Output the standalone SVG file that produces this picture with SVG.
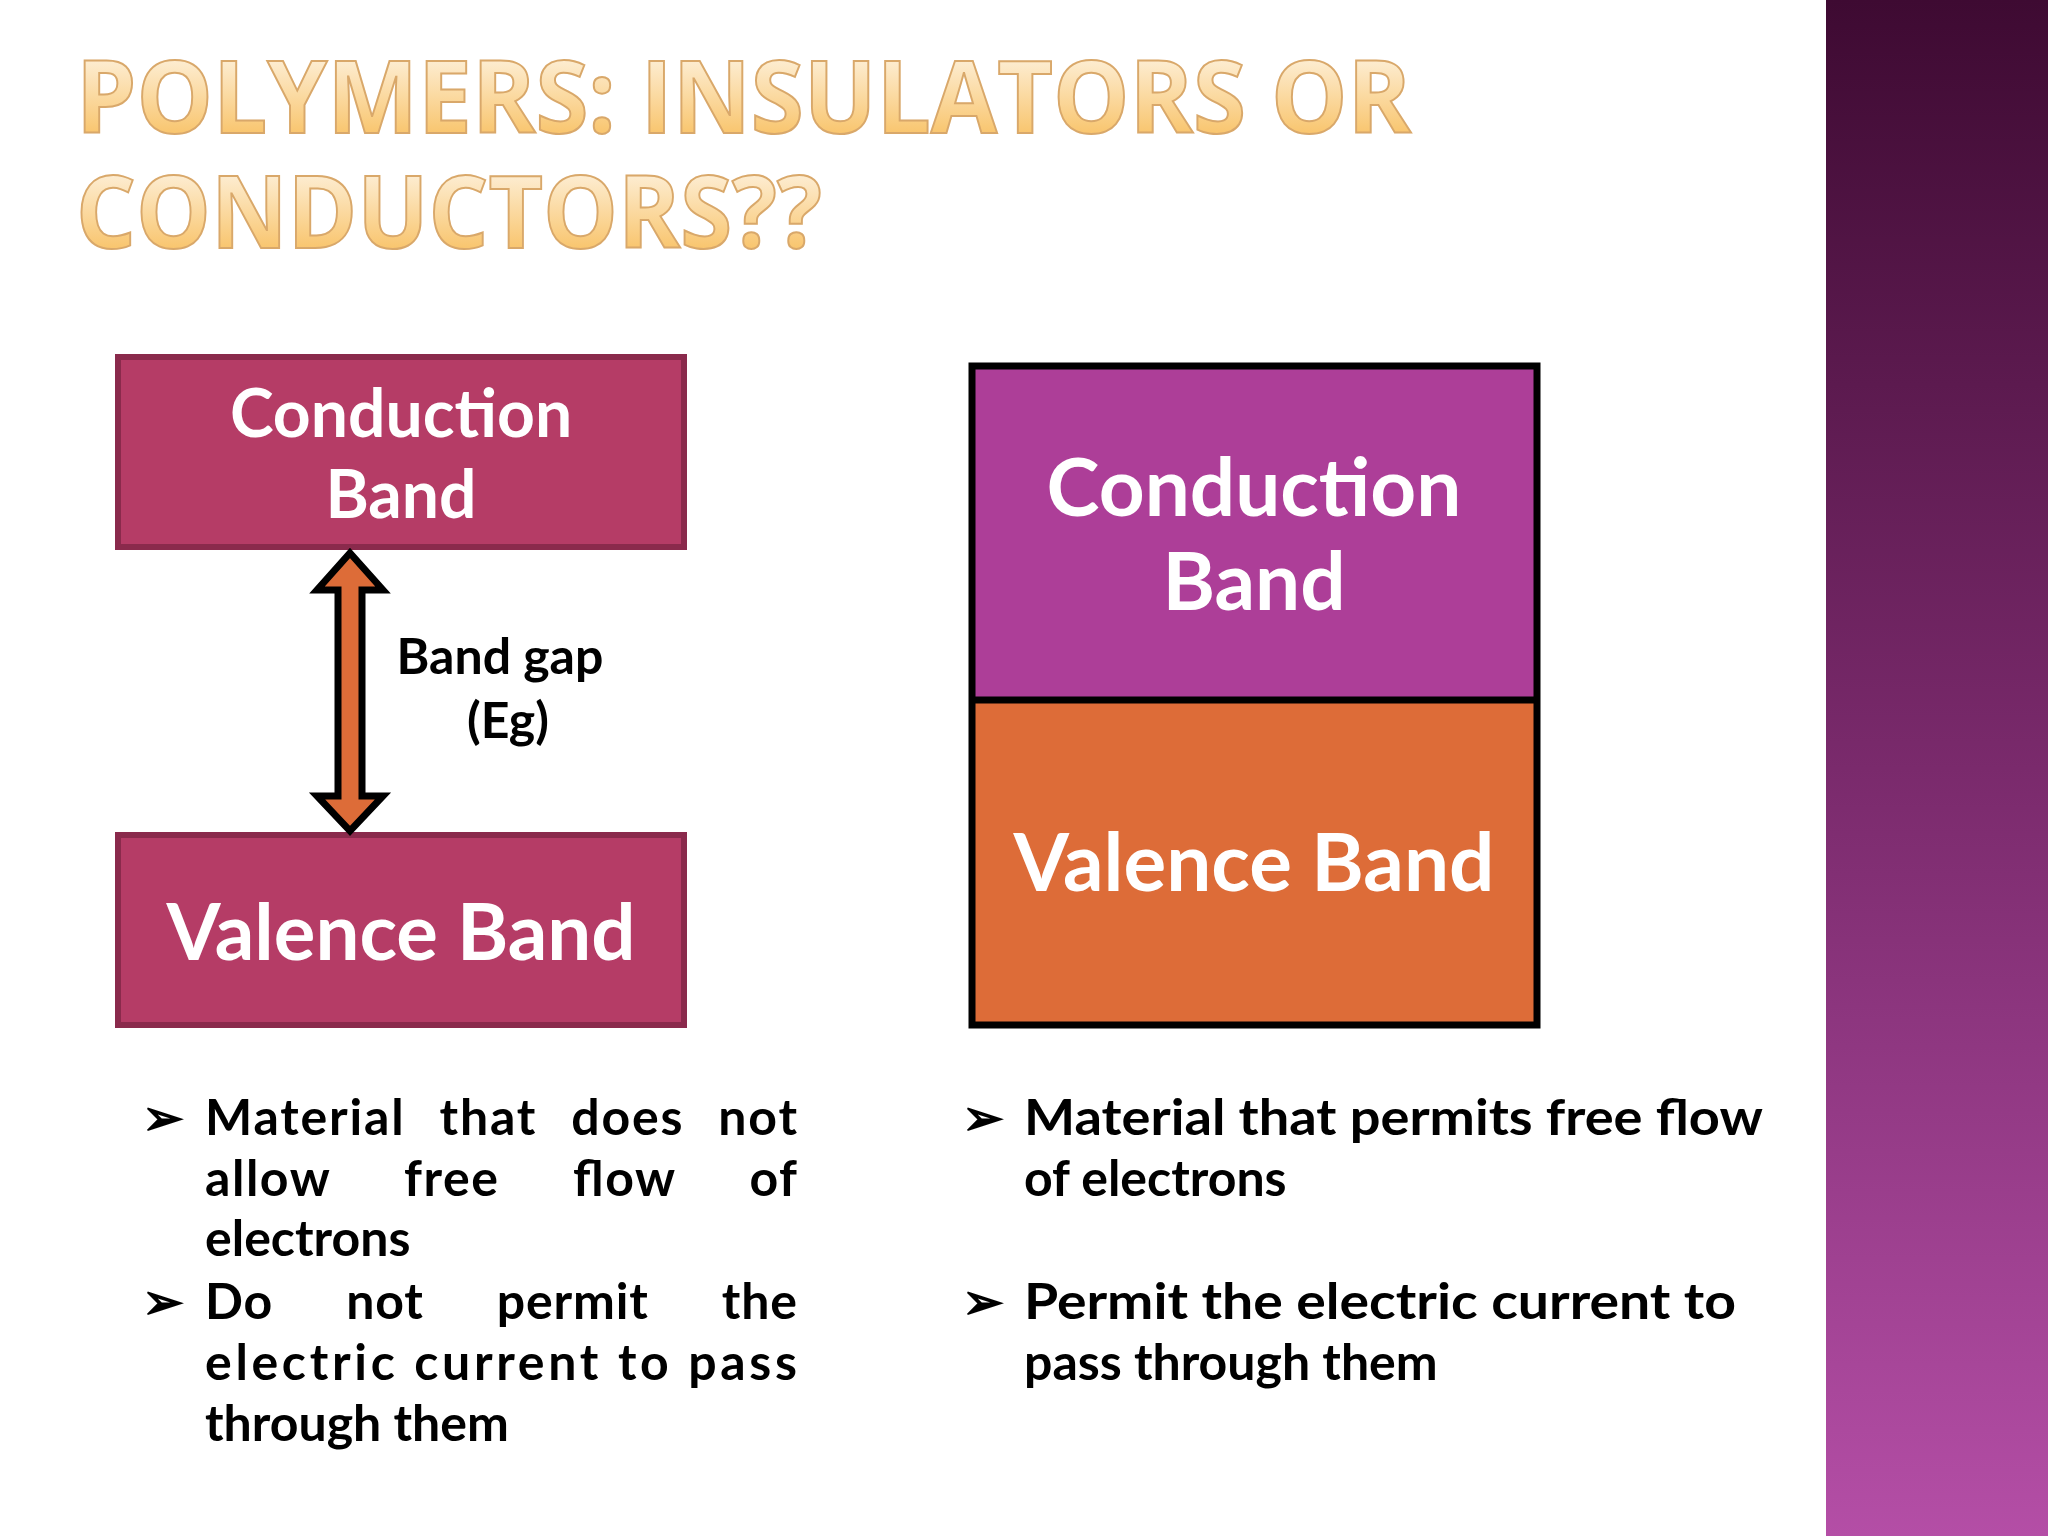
<svg xmlns="http://www.w3.org/2000/svg" width="2048" height="1536" viewBox="0 0 2048 1536">
<defs>
<linearGradient id="side" x1="0" y1="0" x2="0" y2="1"><stop offset="0" stop-color="#3e0a32"/><stop offset="0.5" stop-color="#7a2a6c"/><stop offset="1" stop-color="#b44ea6"/></linearGradient>
<linearGradient id="tt" x1="0" y1="0" x2="0" y2="1"><stop offset="0" stop-color="#ffffff"/><stop offset="1" stop-color="#f7b648"/></linearGradient>
</defs>
<style>
.t{font-family:"Open Sans","DejaVu Sans",sans-serif;font-weight:bold;font-size:100px;fill:url(#tt);stroke:#d9a86a;stroke-width:2}
.w{font-family:"Lato","Open Sans",sans-serif;font-weight:bold;fill:#fff;text-anchor:middle}
.b{font-family:"Lato","Open Sans",sans-serif;font-weight:bold;fill:#000;font-size:50px}
</style>
<rect x="0" y="0" width="2048" height="1536" fill="#fff"/>
<rect x="1826" y="0" width="222" height="1536" fill="url(#side)"/>
<text class="t" x="76" y="133" textLength="1335" lengthAdjust="spacingAndGlyphs">POLYMERS: INSULATORS OR</text>
<text class="t" x="76" y="248" textLength="746" lengthAdjust="spacingAndGlyphs">CONDUCTORS??</text>
<g id="cb-left"><rect x="118" y="357" width="566" height="190" fill="#b53c66" stroke="#8a2a4c" stroke-width="6"/>
<text class="w" x="401" y="437" font-size="66">Conduction</text><text class="w" x="401" y="518" font-size="66">Band</text></g>
<g id="vb-left"><rect x="118" y="835" width="566" height="190" fill="#b53c66" stroke="#8a2a4c" stroke-width="6"/>
<text class="w" x="401" y="960" font-size="78">Valence Band</text></g>
<g id="connectors"><polygon points="350,553 383,590 362,590 362,796 383,796 350,831 317,796 338,796 338,590 317,590" fill="#dd6c38" stroke="#000" stroke-width="7" stroke-linejoin="miter"/></g>
<g id="gap-label"><text class="b" x="500" y="674" font-size="47" text-anchor="middle">Band gap</text><text class="b" x="508" y="738" font-size="47" text-anchor="middle">(Eg)</text></g>
<g id="right"><rect x="972" y="366" width="565" height="334" fill="#ad3e98"/><rect x="972" y="700" width="565" height="325" fill="#dd6c38"/>
<rect x="972" y="366" width="565" height="659" fill="none" stroke="#000" stroke-width="7"/><line x1="972" y1="700" x2="1537" y2="700" stroke="#000" stroke-width="7"/>
<text class="w" x="1254" y="516" font-size="80">Conduction</text><text class="w" x="1254" y="610" font-size="80">Band</text>
<text class="w" x="1254" y="891" font-size="80">Valence Band</text></g>
<g id="bullets-left">
<text class="b" x="142" y="1135">➢</text><text class="b" x="205" y="1135" textLength="592" lengthAdjust="spacing" word-spacing="20">Material that does not</text>
<text class="b" x="205" y="1196" textLength="592" lengthAdjust="spacing" word-spacing="60">allow free flow of</text>
<text class="b" x="205" y="1256">electrons</text>
<text class="b" x="142" y="1319">➢</text><text class="b" x="205" y="1319" textLength="592" lengthAdjust="spacing" word-spacing="60">Do not permit the</text>
<text class="b" x="205" y="1380" textLength="592" lengthAdjust="spacing">electric current to pass</text>
<text class="b" x="205" y="1441">through them</text></g>
<g id="bullets-right">
<text class="b" x="962" y="1135">➢</text><text class="b" x="1024" y="1135" textLength="739" lengthAdjust="spacingAndGlyphs">Material that permits free flow</text>
<text class="b" x="1024" y="1196">of electrons</text>
<text class="b" x="962" y="1319">➢</text><text class="b" x="1024" y="1319" textLength="712" lengthAdjust="spacingAndGlyphs">Permit the electric current to</text>
<text class="b" x="1024" y="1380">pass through them</text></g>
</svg>
